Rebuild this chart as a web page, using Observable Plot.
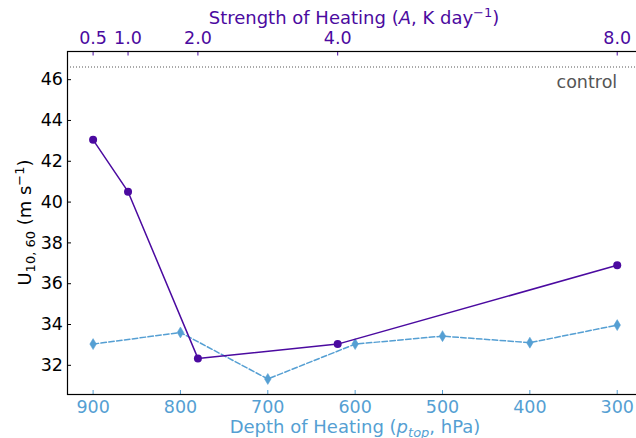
<!DOCTYPE html>
<html>
<head>
<meta charset="utf-8">
<script src="https://cdn.jsdelivr.net/npm/d3@7"></script>
<script src="https://cdn.jsdelivr.net/npm/@observablehq/plot@0.6"></script>
<style>
  html, body { margin: 0; padding: 0; background: #fff; overflow: hidden; }
  #chart svg { display: block; }
</style>
</head>
<body>
<div id="chart"></div>
<script>
// Depth-of-heating experiments (bottom axis, p_top in hPa)
const depthTicks = [900, 800, 700, 600, 500, 400, 300];
const depthU = [33.04, 33.61, 31.33, 33.04, 33.43, 33.11, 33.97];

// Strength-of-heating experiments (top axis, A in K/day)
const strengthTicks = [0.5, 1.0, 2.0, 4.0, 8.0];
const strengthU = [43.05, 40.51, 32.34, 33.04, 36.90];

// Control run value
const controlU = 46.62;

const yTicks = [32, 34, 36, 38, 40, 42, 44, 46];

const PURPLE = "#4b0aa0";
const BLUE = "#559fd3";

// The strength axis shares the horizontal scale: A = 0.5 at 900 hPa, A = 8 at 300 hPa
const strengthToDepth = a => 900 - 80 * (a - 0.5);
const depthToStrength = p => 0.5 + (900 - p) / 80;

const depthRows = depthTicks.map((p, i) => ({p, u: depthU[i]}));
const strengthRows = strengthTicks.map((a, i) => ({a, p: strengthToDepth(a), u: strengthU[i]}));

// Narrow diamond marker
const thinDiamond = {
  draw(ctx, size) {
    const r = Math.sqrt(size / Math.PI);
    const w = r * 0.6;
    ctx.moveTo(0, -r);
    ctx.lineTo(w, 0);
    ctx.lineTo(0, r);
    ctx.lineTo(-w, 0);
    ctx.closePath();
  }
};

const TICK_FONT = 17.5;
const LABEL_FONT = 18;

const chart = Plot.plot({
  width: 636,
  height: 438,
  marginLeft: 67,
  marginTop: 51,
  marginBottom: 44,
  marginRight: -6,
  style: {fontFamily: "DejaVu Sans", fontSize: "17px", background: "#fff", overflow: "hidden"},
  x: {domain: [929.3, 271.05]},
  y: {domain: [30.57, 47.38]},
  marks: [
    Plot.ruleY([controlU], {stroke: "#555", strokeWidth: 1, strokeDasharray: "1,2"}),
    Plot.text([controlU], {
      x: depthTicks[depthTicks.length - 1], y: d => d, text: () => "control",
      textAnchor: "end", lineAnchor: "top", dy: 9, fill: "#555", fontSize: 17.5
    }),
    Plot.line(depthRows, {x: "p", y: "u", stroke: BLUE, strokeWidth: 1.5, strokeDasharray: "5.5,2.4"}),
    Plot.dot(depthRows, {x: "p", y: "u", symbol: thinDiamond, r: 5.5, fill: BLUE, stroke: BLUE, strokeWidth: 0.5}),
    Plot.line(strengthRows, {x: "p", y: "u", stroke: PURPLE, strokeWidth: 1.5}),
    Plot.dot(strengthRows, {x: "p", y: "u", r: 4, fill: PURPLE}),
    Plot.axisY(yTicks, {anchor: "left", tickSize: -4, tickPadding: 8.5, color: "black", label: null, fontSize: TICK_FONT}),
    Plot.axisX(depthTicks, {anchor: "bottom", tickSize: -4, tickPadding: 10, color: BLUE, label: null, fontSize: TICK_FONT}),
    Plot.axisX(strengthTicks.map(strengthToDepth), {
      anchor: "top", tickSize: -3.5, tickPadding: 11, color: PURPLE, label: null, fontSize: TICK_FONT,
      tickFormat: p => depthToStrength(p).toFixed(1)
    }),
    Plot.frame({stroke: "black", strokeWidth: 1.2})
  ]
});

document.getElementById("chart").appendChild(chart);

// Axis titles with italics, sub- and superscripts
const svg = d3.select(chart);

const topLabel = svg.append("text")
  .attr("x", 354).attr("y", 24)
  .attr("text-anchor", "middle").attr("fill", PURPLE).attr("font-size", LABEL_FONT);
topLabel.append("tspan").text("Strength of Heating (");
topLabel.append("tspan").attr("font-style", "italic").text("A");
topLabel.append("tspan").text(", K day");
topLabel.append("tspan").attr("dy", -7).attr("font-size", 13).text("\u22121");
topLabel.append("tspan").attr("dy", 7).text(")");

const bottomLabel = svg.append("text")
  .attr("x", 355).attr("y", 432.5)
  .attr("text-anchor", "middle").attr("fill", BLUE).attr("font-size", LABEL_FONT);
bottomLabel.append("tspan").text("Depth of Heating (");
bottomLabel.append("tspan").attr("font-style", "italic").text("p");
bottomLabel.append("tspan").attr("dy", 4).attr("font-size", 13).attr("font-style", "italic").text("top");
bottomLabel.append("tspan").attr("dy", -4).text(", hPa)");

const yLabel = svg.append("text")
  .attr("transform", "translate(31,222.5) rotate(-90)")
  .attr("text-anchor", "middle").attr("fill", "black").attr("font-size", LABEL_FONT);
yLabel.append("tspan").text("U");
yLabel.append("tspan").attr("dy", 4).attr("font-size", 13).text("10, 60");
yLabel.append("tspan").attr("dy", -4).text(" (m s");
yLabel.append("tspan").attr("dy", -7).attr("font-size", 13).text("\u22121");
yLabel.append("tspan").attr("dy", 7).text(")");
</script>
</body>
</html>
